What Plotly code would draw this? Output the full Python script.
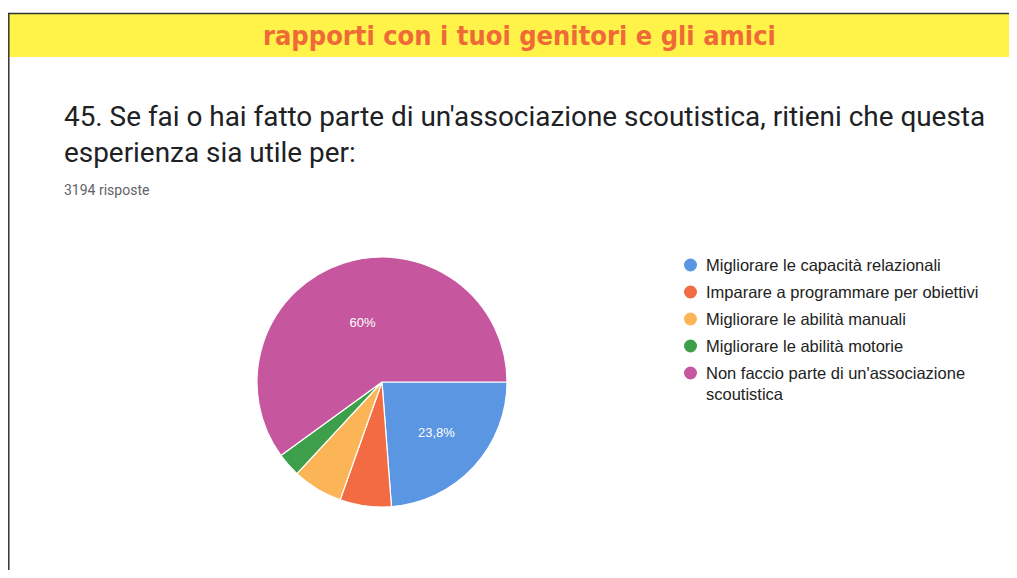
import plotly.graph_objects as go

# survey answers (3194 risposte)
labels = [
    'Migliorare le capacità relazionali',
    'Imparare a programmare per obiettivi',
    'Migliorare le abilità manuali',
    'Migliorare le abilità motorie',
    "Non faccio parte di un'associazione<br>scoutistica",
]
counts = [760, 212, 207, 99, 1916]
colors = ['#5b96e2', '#f26b43', '#fbb557', '#3d9f49', '#c6579f']

total = sum(counts)


def pct_label(c):
    p = c / total * 100
    if p < 10:
        return ''
    s = '{:.1f}'.format(p).replace('.', ',')
    if s.endswith(',0'):
        s = s[:-2]
    return s + '%'


slice_text = [pct_label(c) for c in counts]

# page body has an 8px margin on every side, so the figure is kept inside it
OFF = 8
W, H = 1017 - 2 * OFF, 578 - 2 * OFF


def px(x):
    return (x - OFF) / W


def py(y):
    return 1 - (y - OFF) / H


fig = go.Figure()
fig.add_trace(go.Pie(labels=labels, values=counts,
                     text=slice_text, textinfo='text',
                     textposition='inside', insidetextorientation='horizontal',
                     textfont=dict(color='white', size=13, family='Arial'),
                     marker=dict(colors=colors, line=dict(color='white', width=1.2)),
                     sort=False, direction='clockwise', rotation=90,
                     showlegend=False, hoverinfo='label+percent',
                     domain=dict(x=[px(257), px(507)], y=[py(507), py(257)])))

shapes = [
    # yellow banner + frame
    dict(type='rect', xref='paper', yref='paper', x0=px(8), x1=1, y0=py(57), y1=py(14),
         fillcolor='#fff34a', line=dict(width=0), layer='below'),
    dict(type='line', xref='paper', yref='paper', x0=px(8), x1=1, y0=py(13.5), y1=py(13.5),
         line=dict(color='#333333', width=1.5)),
    dict(type='line', xref='paper', yref='paper', x0=px(8.8), x1=px(8.8), y0=0, y1=py(13),
         line=dict(color='#333333', width=1.5)),
]

annotations = [
    dict(text='<b>rapporti con i tuoi genitori e gli amici</b>', x=px(519), y=py(35),
         font=dict(family='DejaVu Sans Condensed', size=27, color='#ef6a36'),
         showarrow=False, xanchor='center', yanchor='middle'),
    dict(text="45. Se fai o hai fatto parte di un'associazione scoutistica, ritieni che questa",
         x=px(62), y=py(116), font=dict(family='Roboto', size=27.9, color='#202124'),
         showarrow=False, xanchor='left', yanchor='middle'),
    dict(text='esperienza sia utile per:', x=px(62), y=py(152),
         font=dict(family='Roboto', size=27.9, color='#202124'),
         showarrow=False, xanchor='left', yanchor='middle'),
    dict(text='3194 risposte', x=px(62), y=py(190),
         font=dict(family='Roboto', size=14, color='#5f6368'),
         showarrow=False, xanchor='left', yanchor='middle'),
]

# legend drawn google-forms style: dot + label
row_y = [265, 292, 319, 346, 373]
for lab, col, ry in zip(labels, colors, row_y):
    shapes.append(dict(type='circle', xref='paper', yref='paper',
                       x0=px(684), x1=px(697), y0=py(ry + 6.5), y1=py(ry - 6.5),
                       fillcolor=col, line=dict(width=0)))
    annotations.append(dict(text=lab, x=px(704), y=py(ry - 11), xanchor='left', yanchor='top',
                            align='left', showarrow=False,
                            font=dict(family='Arial', size=16.5, color='#222222')))

fig.update_layout(width=W, height=H, margin=dict(l=0, r=0, t=0, b=0),
                  paper_bgcolor='white', plot_bgcolor='white',
                  shapes=shapes, annotations=annotations)

fig.write_html("out.html")
